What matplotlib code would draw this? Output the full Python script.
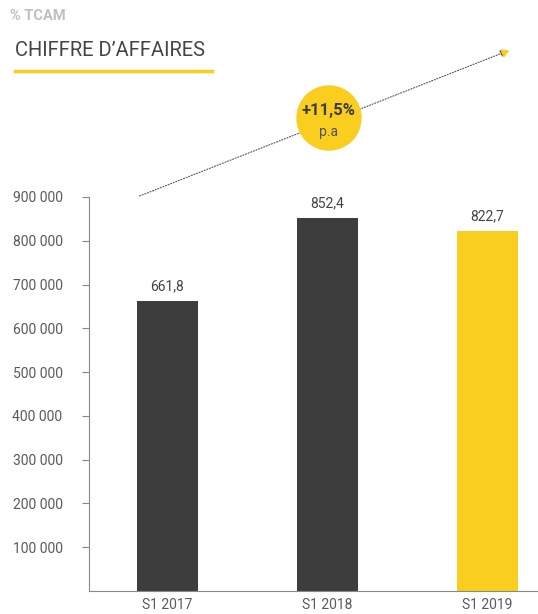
import numpy as np
import matplotlib.pyplot as plt
from matplotlib.patches import Ellipse, FancyArrowPatch

# %% data
periods = ['S1 2017', 'S1 2018', 'S1 2019']
ca = [661800, 852400, 822700]
ca_labels = ['661,8', '852,4', '822,7']
y_ticks = [100000, 200000, 300000, 400000, 500000, 600000, 700000, 800000, 900000]
y_tick_labels = ['100 000', '200 000', '300 000', '400 000', '500 000',
                 '600 000', '700 000', '800 000', '900 000']
growth = '+11,5%'

dark = '#3d3d3d'
yellow = '#f9ce1f'
txt = '#5a5a5a'

plt.rcParams['font.family'] = ['Roboto', 'DejaVu Sans']

W, H = 538, 614
fig = plt.figure(figsize=(W / 100, H / 100), dpi=100)
ax = fig.add_axes([89 / W, 1 - 591 / H, (538 - 89) / W, (591 - 197) / H])

# %% bars
x = np.arange(len(periods))
colors = [dark, dark, yellow]
ax.bar(x, ca, width=0.38, color=colors, zorder=2)
for xi, v, lab in zip(x, ca, ca_labels):
    ax.text(xi, v + 18000, lab, ha='center', va='bottom', fontsize=10, color='#444444')

ax.set_xlim(-0.49, 2.316)
ax.set_ylim(0, 900000)
ax.set_xticks(x)
ax.set_xticklabels(periods, fontsize=10, color=txt)
ax.set_yticks(y_ticks)
ax.set_yticklabels(y_tick_labels, fontsize=10, color=txt)
ax.tick_params(axis='x', length=0, pad=5)
ax.tick_params(axis='y', length=5, width=0.8, color='#888888', pad=14)
for s in ['top', 'right']:
    ax.spines[s].set_visible(False)
for s in ['left', 'bottom']:
    ax.spines[s].set_linestyle((0, (1, 1)))
    ax.spines[s].set_color('#888888')
    ax.spines[s].set_linewidth(0.8)

# %% headings
fig.text(10 / W, 1 - 16 / H, '% TCAM', fontsize=10.5, fontweight='bold', color='#c0c0c0', va='center')
fig.text(15 / W, 1 - 50 / H, 'CHIFFRE D\u2019AFFAIRES', fontsize=14.5, color='#444444', va='center')
fig.add_artist(plt.Line2D([15 / W, 212 / W], [1 - 71 / H, 1 - 71 / H], color=yellow, lw=2.5))

# %% growth arrow and bubble
arrow = FancyArrowPatch((137 / W, 1 - 197 / H), (510 / W, 1 - 50 / H), transform=fig.transFigure,
                        arrowstyle='-|>', mutation_scale=10, color='#555555', lw=0.8,
                        linestyle=(0, (1, 1.5)))
fig.add_artist(arrow)
fig.add_artist(plt.Line2D([504 / W], [1 - 52 / H], marker=(3, 0, -68), markersize=6,
                          color=yellow, transform=fig.transFigure))
fig.add_artist(Ellipse((329 / W, 1 - 118 / H), 64 / W, 64 / H, color=yellow, transform=fig.transFigure))
fig.text(329 / W, 1 - 111 / H, growth, fontsize=12, fontweight='bold', color='#3d3d3d', ha='center', va='center')
fig.text(329 / W, 1 - 132 / H, 'p.a', fontsize=10, color='#555555', ha='center', va='center')

fig.savefig('out.png', dpi=100)
